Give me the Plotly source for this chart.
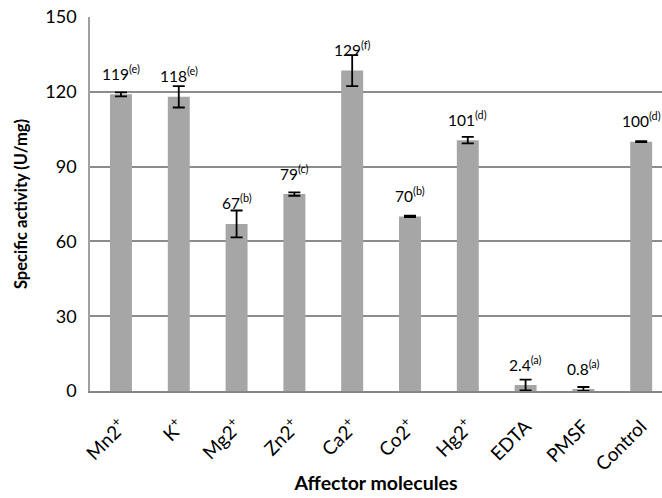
import plotly.graph_objects as go

categories = ["Mn2<sup>+</sup>", "K<sup>+</sup>", "Mg2<sup>+</sup>", "Zn2<sup>+</sup>", "Ca2<sup>+</sup>",
              "Co2<sup>+</sup>", "Hg2<sup>+</sup>", "EDTA", "PMSF", "Control"]
activity = [119, 118, 67, 79, 128.5, 70, 100.6, 2.4, 0.8, 100]
errors = [0.8, 4.3, 5.4, 0.7, 6.2, 0.3, 1.3, 2.2, 0.8, 0.2]
value_labels = ["119", "118", "67", "79", "129", "70", "101", "2.4", "0.8", "100"]
letters = ["e", "e", "b", "c", "f", "b", "d", "a", "a", "d"]
y_ticks = [0, 30, 60, 90, 120, 150]

FONT = "Lato"
x = list(range(len(categories)))

fig = go.Figure()
fig.add_trace(go.Bar(
    x=x, y=activity, width=0.38,
    marker=dict(color="#a6a6a6", line=dict(width=0)),
    error_y=dict(type="data", array=errors, visible=True, color="#000000",
                 thickness=1.8, width=6),
))

for xi, v, lab, let in zip(x, activity, value_labels, letters):
    fig.add_annotation(x=xi, y=v, xref="x", yref="y",
                       text=f"{lab}<sup>({let})</sup>", showarrow=False,
                       yanchor="middle", yshift=22,
                       font=dict(family=FONT, size=15.5, color="#000000"))

fig.update_layout(
    width=662, height=498,
    margin=dict(l=90, r=0, t=17, b=107),
    paper_bgcolor="white", plot_bgcolor="white",
    showlegend=False,
    font=dict(family=FONT, color="#000000"),
    xaxis=dict(
        tickmode="array", tickvals=x, ticktext=categories,
        range=[-0.536, 9.36], tickangle=-45,
        tickfont=dict(family=FONT, size=19, color="#000000"),
        showgrid=False, zeroline=False,
        showline=True, linecolor="#868686", linewidth=2,
        ticks="", ticklabelstandoff=15,
        title=dict(text="<b>Affector molecules</b>", font=dict(family=FONT, size=19.5, color="#000000"),
                   standoff=2),
    ),
    yaxis=dict(
        range=[0, 150], tickmode="array", tickvals=y_ticks,
        tickfont=dict(family=FONT, size=18, color="#000000"),
        showgrid=True, gridcolor="#8c8c8c", gridwidth=1.5,
        zeroline=False, showline=True, linecolor="#a0a0a0", linewidth=1.5,
        ticks="", ticklabelstandoff=8,
        title=dict(text="<b>Specific activity (U/mg)</b>", font=dict(family=FONT, size=16.5, color="#000000"),
                   standoff=14),
    ),
)

fig.write_html("out.html")
